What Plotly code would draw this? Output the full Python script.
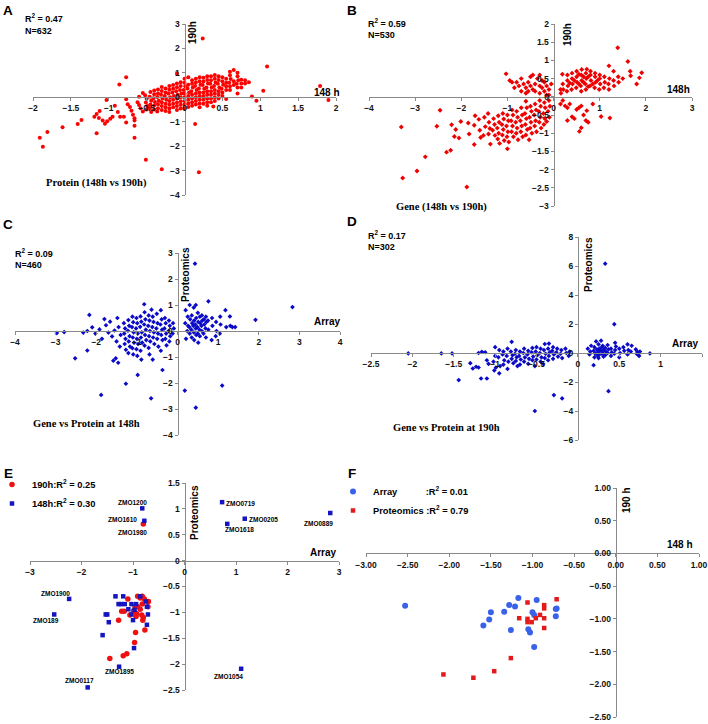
import plotly.graph_objects as go

W, H = 708, 724

# ---------------- Panel A : Protein (148h vs 190h) ----------------
a_pts = [
    (0.24, 2.41), (1.09, 1.26), (1.79, 0.46), (1.90, -0.11), (1.04, 0.27), (0.89, 0.03), (0.95, -0.14), (0.55, -0.07),
    (-0.77, 0.82), (-0.86, 0.52), (-1.91, -1.66), (-1.87, -2.02), (-1.81, -1.42), (-1.61, -1.23), (-1.41, -1.09),
    (-1.36, -0.93), (-1.16, -1.47), (-0.66, -1.66), (-0.51, -2.56), (-0.30, -2.95), (0.19, -3.07), (0.14, -1.09),
    (-0.66, -1.17),
    (-1.12, -0.56), (-1.16, -0.68), (-1.19, -0.80), (-1.13, -0.85), (-1.08, -0.95), (-1.05, -1.08), (-1.02, -0.98),
    (-0.98, -0.88), (-0.95, -0.80), (-0.85, -0.80), (-0.80, -0.80), (-0.92, -0.35), (-1.03, -0.11), (-0.77, -0.08),
    (-0.75, -0.28), (-0.72, -0.40), (-0.70, -0.55), (-0.68, -0.72), (-0.66, -0.86), (-0.66, -0.95), (-0.62, -0.20),
    (-0.60, 0.02), (-0.58, -0.45), (-0.55, -0.58), (-0.77, -1.03), (-0.88, -0.60), (-0.55, 0.18), (-0.60, -0.32),
    (-0.52, 0.08), (-0.50, -0.06), (-0.51, -0.21), (-0.49, -0.36), (-0.50, -0.50),
    (-0.45, 0.22), (-0.46, 0.02), (-0.44, -0.14), (-0.45, -0.30), (-0.46, -0.44), (-0.44, -0.60),
    (-0.40, 0.28), (-0.40, 0.12), (-0.41, -0.04), (-0.39, -0.19), (-0.40, -0.34), (-0.40, -0.50),
    (-0.35, 0.32), (-0.35, 0.16), (-0.36, 0.01), (-0.34, -0.14), (-0.35, -0.29), (-0.35, -0.45), (-0.36, -0.58),
    (-0.30, 0.42), (-0.30, 0.26), (-0.31, 0.10), (-0.29, -0.05), (-0.30, -0.20), (-0.30, -0.36), (-0.30, -0.52),
    (-0.25, 0.36), (-0.25, 0.20), (-0.26, 0.05), (-0.24, -0.10), (-0.25, -0.26), (-0.25, -0.41), (-0.25, -0.56),
    (-0.20, 0.46), (-0.20, 0.31), (-0.21, 0.15), (-0.19, 0.00), (-0.20, -0.15), (-0.20, -0.31), (-0.20, -0.46),
    (-0.20, -0.60),
    (-0.15, 0.50), (-0.15, 0.35), (-0.16, 0.20), (-0.14, 0.05), (-0.15, -0.10), (-0.15, -0.26), (-0.15, -0.41),
    (-0.10, 0.97), (-0.10, 0.56), (-0.10, 0.41), (-0.11, 0.25), (-0.09, 0.10), (-0.10, -0.05), (-0.10, -0.21),
    (-0.10, -0.36), (-0.10, -0.52),
    (-0.05, 0.62), (-0.05, 0.46), (-0.06, 0.30), (-0.04, 0.15), (-0.05, 0.00), (-0.05, -0.16), (-0.05, -0.31),
    (-0.05, -0.46),
    (0.00, 0.76), (0.00, 0.60), (0.01, 0.45), (-0.01, 0.30), (0.00, 0.15), (0.00, 0.00), (0.00, -0.15),
    (0.00, -0.30), (0.00, -0.46),
    (0.05, 0.82), (0.05, 0.51), (0.04, 0.36), (0.06, 0.20), (0.05, 0.05), (0.05, -0.10), (0.05, -0.25), (0.05, -0.40),
    (0.10, 0.70), (0.10, 0.55), (0.11, 0.40), (0.09, 0.25), (0.10, 0.10), (0.10, -0.05), (0.10, -0.20), (0.10, -0.35),
    (0.15, 0.76), (0.15, 0.61), (0.14, 0.46), (0.16, 0.30), (0.15, 0.15), (0.15, 0.00), (0.15, -0.15), (0.15, -0.30),
    (0.20, 0.82), (0.20, 0.66), (0.21, 0.51), (0.19, 0.36), (0.20, 0.20), (0.20, 0.05), (0.20, -0.10), (0.20, -0.25),
    (0.20, -0.41),
    (0.25, 0.80), (0.25, 0.65), (0.24, 0.50), (0.26, 0.35), (0.25, 0.20), (0.25, 0.05), (0.25, -0.10), (0.25, -0.26),
    (0.30, 0.86), (0.30, 0.71), (0.31, 0.56), (0.29, 0.40), (0.30, 0.25), (0.30, 0.10), (0.30, -0.05), (0.30, -0.20),
    (0.30, -0.35),
    (0.35, 0.86), (0.35, 0.70), (0.34, 0.55), (0.36, 0.40), (0.35, 0.25), (0.35, 0.10), (0.35, -0.05), (0.35, -0.20),
    (0.40, 0.91), (0.40, 0.76), (0.41, 0.61), (0.39, 0.46), (0.40, 0.30), (0.40, 0.15), (0.40, 0.00), (0.40, -0.15),
    (0.38, -0.38),
    (0.45, 0.86), (0.45, 0.71), (0.44, 0.55), (0.46, 0.40), (0.45, 0.25), (0.45, 0.10), (0.45, -0.05),
    (0.50, 0.82), (0.50, 0.66), (0.51, 0.51), (0.49, 0.35), (0.50, 0.20), (0.50, 0.05),
    (0.55, 0.76), (0.55, 0.60), (0.55, 0.45), (0.55, 0.30),
    (0.60, 1.05), (0.60, 0.90), (0.61, 0.75), (0.59, 0.60), (0.60, 0.45), (0.60, 0.30),
    (0.65, 1.12), (0.65, 0.66), (0.65, 0.50),
    (0.70, 1.00), (0.70, 0.86), (0.71, 0.70), (0.69, 0.55), (0.70, 0.40), (0.70, 0.16),
    (0.75, 0.72), (0.75, 0.56), (0.75, 0.40), (0.80, 0.70), (0.80, 0.56), (0.85, 0.62),
]

# ---------------- Panel B : Gene (148h vs 190h) ----------------
b_pts = [
    (-3.30, -0.83), (-3.27, -2.23), (-2.96, -2.04), (-2.78, -1.65), (-2.53, -0.81), (-2.46, -0.37), (-2.32, -1.52),
    (-2.23, -1.47), (-2.21, -0.77), (-2.12, -0.90), (-2.15, -1.09), (-2.05, -1.13), (-2.01, -0.68), (-1.88, -2.48),
    (-1.72, -1.31), (-1.00, -1.43), (-0.53, -1.18),
    (1.39, 1.35), (1.61, 0.97), (1.66, 0.70), (1.67, 0.58), (1.86, 0.52), (1.91, 0.66), (1.80, 0.35), (1.22, -0.58),
    (1.03, -0.54),
    (-1.85, -0.72), (-1.83, -1.02), (-1.70, -0.52), (-1.72, -0.78), (-1.62, -0.62), (-1.60, -0.92), (-1.58, -1.12),
    (-1.50, -0.56), (-1.48, -0.82), (-1.52, -1.06), (-1.42, -0.46), (-1.40, -0.70), (-1.38, -0.87), (-1.41, -1.02),
    (-1.37, -1.30), (-1.30, -0.60), (-1.28, -0.76), (-1.32, -0.92), (-1.27, -1.06),
    (-1.20, -0.52), (-1.18, -0.70), (-1.22, -0.86), (-1.19, -1.00), (-1.21, -1.16), (-1.17, -1.28),
    (-1.10, -0.46), (-1.08, -0.61), (-1.12, -0.76), (-1.09, -0.90), (-1.11, -1.05), (-1.07, -1.20),
    (-1.00, -0.50), (-0.98, -0.66), (-1.02, -0.80), (-0.99, -0.96), (-1.01, -1.10), (-0.97, -1.24),
    (-0.90, -0.36), (-0.88, -0.50), (-0.92, -0.66), (-0.89, -0.80), (-0.91, -0.96), (-0.87, -1.10),
    (-0.80, -0.40), (-0.78, -0.56), (-0.82, -0.70), (-0.79, -0.86), (-0.81, -1.00), (-0.77, -1.18),
    (-0.70, -0.30), (-0.68, -0.50), (-0.72, -0.66), (-0.69, -0.80), (-0.71, -0.96), (-0.67, -1.10),
    (-0.60, -0.12), (-0.58, -0.30), (-0.62, -0.46), (-0.59, -0.60), (-0.61, -0.76), (-0.57, -0.90), (-0.60, -1.05),
    (-0.50, -0.26), (-0.48, -0.40), (-0.52, -0.56), (-0.49, -0.70), (-0.51, -0.86), (-0.47, -1.00),
    (-0.40, -0.20), (-0.38, -0.36), (-0.42, -0.50), (-0.39, -0.66), (-0.41, -0.80), (-0.37, -0.96),
    (-0.30, -0.10), (-0.28, -0.26), (-0.32, -0.40), (-0.29, -0.56), (-0.31, -0.70), (-0.27, -0.86),
    (-0.20, -0.16), (-0.18, -0.30), (-0.22, -0.46), (-0.19, -0.60), (-0.21, -0.76),
    (-0.10, -0.10), (-0.08, -0.26), (-0.12, -0.40), (-0.09, -0.56), (-0.15, -0.68),
    (-1.03, 0.63), (-0.95, 0.45), (-0.90, 0.40), (-0.80, 0.40), (-0.75, 0.30), (-0.70, 0.50), (-0.65, 0.35),
    (-0.60, 0.25), (-0.55, 0.40), (-0.50, 0.30), (-0.50, 0.55), (-0.45, 0.20), (-0.40, 0.35), (-0.40, 0.15),
    (-0.35, 0.50), (-0.30, 0.30), (-0.30, 0.10), (-0.25, 0.25), (-0.20, 0.40), (-0.20, 0.15), (-0.15, 0.30),
    (-0.10, 0.20), (-0.10, 0.05), (-0.05, 0.35), (-0.60, 0.10), (-0.70, 0.15), (-0.85, 0.25), (-0.45, 0.60),
    (-0.30, 0.60), (-0.15, 0.05), (-0.25, 0.45), (-0.55, 0.15),
    (0.15, 0.20), (0.16, 0.10), (0.20, 0.35), (0.21, 0.20), (0.19, 0.62),
    (0.30, 0.45), (0.31, 0.30), (0.29, 0.15), (0.30, 0.60), (0.40, 0.50), (0.41, 0.35), (0.39, 0.20), (0.40, 0.65),
    (0.50, 0.55), (0.51, 0.40), (0.49, 0.25), (0.50, 0.70), (0.60, 0.60), (0.61, 0.45), (0.59, 0.30), (0.60, 0.15),
    (0.61, 0.75), (0.70, 0.65), (0.71, 0.50), (0.69, 0.35), (0.70, 0.20), (0.72, 0.76), (0.80, 0.60), (0.81, 0.45),
    (0.79, 0.30), (0.80, 0.70), (0.90, 0.55), (0.91, 0.40), (0.89, 0.25), (0.90, 0.65), (1.00, 0.50), (1.01, 0.35),
    (0.99, 0.20), (1.00, 0.60), (1.10, 0.55), (1.11, 0.40), (1.09, 0.25), (1.20, 0.85), (1.21, 0.50), (1.19, 0.35),
    (1.20, 0.20), (1.30, 0.45), (1.31, 0.30), (1.30, 0.70), (1.40, 0.55), (1.41, 0.40), (1.50, 0.50),
    (0.45, 0.45), (0.55, 0.35), (0.65, 0.40), (0.75, 0.55), (0.85, 0.35), (0.95, 0.45), (0.35, 0.38), (0.65, 0.55),
    (0.55, 0.62), (0.75, 0.28),
    (0.15, -0.20), (0.25, -0.25), (0.30, -0.30), (0.35, -0.20), (0.40, -0.55), (0.45, -0.60), (0.50, -0.35),
    (0.55, -0.30), (0.60, -0.25), (0.65, -0.50), (0.70, -0.65), (0.72, -0.38), (0.56, -0.95), (0.60, -0.85),
    (0.75, -0.70), (0.30, -0.65), (0.85, -0.20), (0.20, -0.10),
]

# ---------------- Panel C : Gene vs Protein at 148h ----------------
c_pts = [
    (0.43, 2.59), (2.83, 0.92), (1.92, 0.43), (-2.97, -0.08), (-2.79, -0.04), (-2.52, -1.05), (-2.22, -0.75),
    (-2.17, 0.62), (-1.88, -2.46), (-1.58, -1.14), (-1.52, -1.05), (-1.46, -1.22), (-1.27, -2.03), (-0.98, -1.69),
    (-0.65, -2.59), (-0.37, -1.50), (0.18, -2.29), (0.45, -2.95), (1.10, -2.10), (-0.82, 1.03), (-0.64, 0.82),
    (0.76, 1.14),
    (-2.32, -0.06), (-2.22, 0.00), (-2.10, 0.14), (-2.02, -0.10), (-1.92, 0.06), (-1.86, -0.30), (-1.80, 0.46),
    (-1.76, 0.22), (-1.70, -0.06), (-1.66, 0.36), (-1.61, -0.21), (-1.55, 0.02), (-1.50, -0.40), (-1.48, 0.50),
    (-1.45, 0.15), (-1.40, -0.15), (-1.42, -0.60),
    (-1.32, 0.30), (-1.29, 0.10), (-1.31, -0.10), (-1.28, -0.30), (-1.30, -0.50), (-1.27, -0.72),
    (-1.21, 0.42), (-1.19, 0.20), (-1.22, 0.01), (-1.18, -0.20), (-1.20, -0.40), (-1.17, -0.60), (-1.21, -0.85),
    (-1.11, 0.55), (-1.09, 0.34), (-1.12, 0.15), (-1.08, -0.05), (-1.10, -0.25), (-1.07, -0.45), (-1.11, -0.66),
    (-1.09, -0.90),
    (-1.01, 0.50), (-0.99, 0.30), (-1.02, 0.10), (-0.98, -0.10), (-1.00, -0.30), (-0.97, -0.50), (-1.01, -0.70),
    (-0.99, -0.96),
    (-0.91, 0.56), (-0.89, 0.36), (-0.92, 0.16), (-0.88, -0.05), (-0.90, -0.25), (-0.87, -0.45), (-0.91, -0.76),
    (-0.89, -1.10),
    (-0.81, 0.72), (-0.79, 0.45), (-0.82, 0.25), (-0.78, 0.05), (-0.80, -0.15), (-0.77, -0.35), (-0.81, -0.56),
    (-0.71, 0.60), (-0.69, 0.40), (-0.72, 0.20), (-0.68, 0.00), (-0.70, -0.20), (-0.67, -0.40), (-0.71, -0.65),
    (-0.69, -0.90),
    (-0.61, 0.55), (-0.59, 0.35), (-0.62, 0.15), (-0.58, -0.05), (-0.60, -0.25), (-0.57, -0.50), (-0.61, -1.10),
    (-0.51, 0.66), (-0.49, 0.30), (-0.52, 0.10), (-0.48, -0.10), (-0.50, -0.30), (-0.47, -0.60),
    (-0.41, 0.80), (-0.39, 0.45), (-0.42, 0.25), (-0.38, 0.05), (-0.40, -0.15), (-0.37, -0.35), (-0.41, -0.76),
    (-0.31, 0.50), (-0.29, 0.30), (-0.32, 0.10), (-0.28, -0.10), (-0.30, -0.30), (-0.27, -0.55),
    (-0.21, 0.40), (-0.19, 0.20), (-0.22, 0.00), (-0.18, -0.20), (-0.20, -0.40),
    (-0.11, 0.30), (-0.09, 0.10), (-0.12, -0.10),
    (0.20, 0.80), (0.19, 0.30), (0.21, -0.30), (0.25, 0.55), (0.26, 0.20), (0.24, 0.00),
    (0.30, 1.00), (0.31, 0.45), (0.29, 0.15), (0.30, -0.10), (0.35, 0.60), (0.36, 0.30), (0.34, 0.05), (0.35, -0.25),
    (0.40, 0.90), (0.41, 0.40), (0.39, 0.20), (0.40, -0.05), (0.41, -0.35),
    (0.45, 1.00), (0.46, 0.50), (0.44, 0.25), (0.45, 0.10), (0.46, -0.15),
    (0.50, 0.70), (0.51, 0.35), (0.49, 0.15), (0.50, -0.10), (0.51, -0.45),
    (0.55, 0.55), (0.56, 0.30), (0.54, 0.05), (0.55, -0.20), (0.60, 0.60), (0.61, 0.40), (0.59, 0.20), (0.60, 0.00),
    (0.65, 0.45), (0.66, 0.25), (0.64, -0.10), (0.70, 0.55), (0.71, 0.35), (0.69, 0.10), (0.70, -0.25),
    (0.75, 0.40), (0.76, 0.05), (0.85, 0.50), (0.86, 0.20), (0.84, -0.35), (0.95, 0.35), (0.96, 0.00), (0.94, -0.20),
    (1.05, 0.55), (1.06, 0.25), (1.04, -0.10), (1.18, 0.80), (1.20, 0.15), (1.29, 0.56), (1.30, 0.20), (1.35, 0.15),
    (1.42, 0.15),
]

# ---------------- Panel D : Gene vs Protein at 190h ----------------
d_pts = [
    (0.33, 6.16), (0.44, 1.99), (0.37, -2.63), (-0.52, -4.00), (-0.29, -2.90), (-0.19, -3.13), (-2.05, -0.03),
    (-1.65, -0.03), (-1.52, -0.03), (-1.44, -1.87), (-1.27, -1.07), (-1.23, -0.95), (-1.17, -1.76), (-1.10, -1.76),
    (-1.16, 0.08), (0.87, -0.03), (0.72, 0.08), (0.73, -0.12), (0.19, -0.84),
    (-1.30, -0.70), (-1.20, -1.00), (-1.20, 0.00), (-1.10, -0.50), (-1.08, -0.75), (-1.12, 0.05),
    (-1.00, -0.20), (-1.02, -0.60), (-0.99, -1.00), (-1.01, -1.20), (-1.00, 0.40),
    (-0.95, 0.20), (-0.96, -0.30), (-0.94, -0.90), (-0.95, -1.40), (-0.90, 0.10), (-0.91, -0.10), (-0.89, -0.50),
    (-0.90, -0.80), (-0.85, 0.30), (-0.86, -0.20), (-0.84, -0.60), (-0.85, -1.10),
    (-0.80, 0.77), (-0.81, 0.10), (-0.79, -0.15), (-0.80, -0.40), (-0.78, -0.70),
    (-0.75, 0.20), (-0.76, -0.05), (-0.74, -0.30), (-0.75, -0.55), (-0.73, -0.90),
    (-0.70, 0.10), (-0.71, -0.20), (-0.69, -0.45), (-0.70, -0.80), (-0.65, 0.30), (-0.66, 0.00), (-0.64, -0.30),
    (-0.65, -0.60), (-0.60, 0.15), (-0.61, -0.10), (-0.59, -0.40), (-0.60, -0.75),
    (-0.55, 0.35), (-0.56, 0.05), (-0.54, -0.25), (-0.55, -0.50),
    (-0.50, 0.40), (-0.51, 0.10), (-0.49, -0.15), (-0.50, -0.45), (-0.52, -0.90),
    (-0.45, 0.30), (-0.46, 0.00), (-0.44, -0.30), (-0.45, -0.60),
    (-0.40, 0.62), (-0.41, 0.20), (-0.39, -0.05), (-0.40, -0.35), (-0.42, -0.75),
    (-0.35, 0.65), (-0.36, 0.30), (-0.34, 0.05), (-0.35, -0.20), (-0.36, -0.50),
    (-0.30, 0.40), (-0.31, 0.15), (-0.29, -0.10), (-0.30, -0.40), (-0.25, 0.30), (-0.26, 0.05), (-0.24, -0.25),
    (-0.20, 0.20), (-0.21, -0.05), (-0.19, -0.35), (-0.15, 0.30), (-0.14, 0.00), (-0.10, 0.10), (-0.11, -0.20),
    (0.12, 0.30), (0.15, 0.10), (0.14, -0.10), (0.16, 0.50), (0.20, 0.40), (0.19, 0.15), (0.21, -0.05),
    (0.20, -0.30), (0.22, 0.80), (0.23, 0.25), (0.22, 0.00), (0.24, -0.20),
    (0.25, 0.60), (0.26, 0.30), (0.25, 0.10), (0.26, -0.10), (0.25, -0.35),
    (0.28, 0.85), (0.29, 0.40), (0.28, 0.15), (0.29, -0.05), (0.30, 0.50), (0.31, 0.20), (0.30, 0.00), (0.31, -0.25),
    (0.33, 0.35), (0.34, 0.10), (0.33, -0.15), (0.36, 0.55), (0.37, 0.25), (0.36, 0.00),
    (0.40, 0.30), (0.41, 0.05), (0.40, -0.20), (0.45, 0.70), (0.46, 0.45), (0.45, 0.20), (0.44, -0.05),
    (0.50, 0.30), (0.51, 0.00), (0.50, -0.30), (0.55, 0.40), (0.56, 0.15), (0.60, 0.60), (0.61, 0.20),
    (0.60, -0.10), (0.65, 0.50), (0.64, 0.10), (0.70, 0.25), (0.71, -0.05), (0.75, 0.10), (0.74, -0.20),
]

# ---------------- Panel E : selected genes ----------------
e148_x = [-0.82, -0.78, 0.73, 0.83, 1.17, 2.83, -2.24, -2.53, -1.27, -1.88, 1.10,
          -1.34, -1.19, -1.28, -1.23, -1.16, -1.03, -0.94, -0.86, -0.75, -0.73, -0.71, -0.73, -1.09,
          -1.03, -1.00, -0.97, -1.53, -1.50, -1.47, -1.59, -0.98]
e148_y = [1.01, 0.77, 1.13, 0.71, 0.81, 0.92, -0.74, -1.04, -2.05, -2.45, -2.09,
          -0.69, -0.69, -0.84, -0.84, -0.84, -0.84, -0.84, -0.69, -0.79, -0.89, -1.04, -1.24, -0.94,
          -1.04, -1.15, -0.95, -1.04, -1.04, -1.19, -1.44, -1.69]
e190_x = [-0.80, -1.10, -1.22, -1.17, -1.28, -0.91, -0.86, -0.82, -0.78, -0.70, -0.71, -0.82, -0.91, -0.86,
          -0.93, -0.94, -0.83, -0.80, -0.81, -0.99, -1.06, -0.96, -0.77, -0.95, -0.97, -1.12, -1.19, -1.45]
e190_y = [0.71, -0.74, -0.98, -0.98, -1.15, -0.69, -0.72, -0.69, -0.74, -0.79, -0.89, -0.84, -0.89, -0.94,
          -1.02, -1.08, -1.05, -1.10, -1.15, -0.97, -1.05, -0.89, -1.34, -1.39, -1.58, -1.80, -1.84, -1.89]
e_labels = ["ZMO1200", "ZMO1610", "ZMO1980", "ZMO0719", "ZMO0205", "ZMO1618", "ZMO0889",
            "ZMO1900", "ZMO189", "ZMO1895", "ZMO0117", "ZMO1054"]
e_label_x = [-1.01, -1.20, -1.01, 1.09, 1.53, 1.06, 2.60, -2.51, -2.68, -1.27, -2.03, 0.85]
e_label_y = [1.13, 0.79, 0.55, 1.11, 0.79, 0.60, 0.71, -0.63, -1.16, -2.15, -2.31, -2.24]

# ---------------- Panel F : 148 h vs 190 h ----------------
f_arr_x = [-2.53, -1.59, -1.52, -1.50, -1.34, -1.28, -1.26, -1.21, -1.17, -1.00, -0.98, -0.95, -1.05, -1.03,
           -0.98, -0.72, -0.72, -0.71]
f_arr_y = [-0.80, -1.10, -1.01, -0.90, -0.89, -0.79, -1.17, -0.81, -0.68, -0.90, -0.94, -0.71, -1.16, -1.21,
           -1.43, -0.96, -0.85, -0.84]
f_pro_x = [-2.07, -1.71, -1.46, -1.26, -1.16, -1.06, -1.06, -1.06, -1.01, -0.96, -0.91, -0.86, -0.86, -0.86,
           -0.86, -0.71]
f_pro_y = [-1.85, -1.90, -1.80, -1.60, -0.99, -0.75, -1.00, -1.05, -1.05, -0.99, -0.94, -0.79, -0.84, -0.99,
           -1.14, -0.70]

FONT = "Liberation Sans, Arial, sans-serif"
SERIF = "Liberation Serif, Times New Roman, serif"
AXC = "#8a8a8a"

fig = go.Figure()


def add(pts, n, color, symbol, size):
    fig.add_trace(go.Scatter(
        x=[p[0] for p in pts], y=[p[1] for p in pts], mode="markers",
        xaxis="x" + ("" if n == 1 else str(n)), yaxis="y" + ("" if n == 1 else str(n)),
        marker=dict(color=color, symbol=symbol, size=size, line=dict(width=0)),
        showlegend=False, hoverinfo="skip"))


add(a_pts, 1, "#ff0000", "circle", 4)
add(b_pts, 2, "#ee0000", "diamond", 3.8)
add(c_pts, 3, "#0a0ac8", "diamond", 3.6)
add(d_pts, 4, "#0a0ac8", "diamond", 3.6)

fig.add_trace(go.Scatter(x=e190_x, y=e190_y, mode="markers", xaxis="x5", yaxis="y5",
                         marker=dict(color="#ee1111", symbol="circle", size=5.5),
                         name="190h:R<sup>2</sup> = 0.25", legend="legend", hoverinfo="skip"))
fig.add_trace(go.Scatter(x=e148_x, y=e148_y, mode="markers", xaxis="x5", yaxis="y5",
                         marker=dict(color="#1414c0", symbol="square", size=4.5),
                         name="148h:R<sup>2</sup> = 0.30", legend="legend", hoverinfo="skip"))
fig.add_trace(go.Scatter(x=f_arr_x, y=f_arr_y, mode="markers", xaxis="x6", yaxis="y6",
                         marker=dict(color="#3a62e8", symbol="circle", size=6),
                         name="Array" + "\u00a0" * 11 + ":R<sup>2</sup> = 0.01", legend="legend2",
                         hoverinfo="skip"))
fig.add_trace(go.Scatter(x=f_pro_x, y=f_pro_y, mode="markers", xaxis="x6", yaxis="y6",
                         marker=dict(color="#e31a1c", symbol="square", size=4.5),
                         name="Proteomics :R<sup>2</sup> = 0.79", legend="legend2", hoverinfo="skip"))

layout = {}


def axes(n, xr, yr, box, xd, yd, fmt=""):
    x0, y0, x1, y1 = box
    xdom = [x0 / W, x1 / W]
    ydom = [1 - y1 / H, 1 - y0 / H]
    xpos = ydom[0] + (0 - yr[0]) / (yr[1] - yr[0]) * (ydom[1] - ydom[0])
    ypos = xdom[0] + (0 - xr[0]) / (xr[1] - xr[0]) * (xdom[1] - xdom[0])
    common = dict(showline=True, linecolor=AXC, linewidth=1, ticks="outside", ticklen=3, tickcolor=AXC,
                  tickwidth=1, showgrid=False, zeroline=False, tick0=0, tickformat=fmt, automargin=False,
                  tickfont=dict(family=FONT, size=8.5, color="#111", weight="bold"), fixedrange=True)
    sfx = "" if n == 1 else str(n)
    layout["xaxis" + sfx] = dict(domain=xdom, range=xr, anchor="free", position=xpos, dtick=xd, **common)
    layout["yaxis" + sfx] = dict(domain=ydom, range=yr, anchor="free", position=ypos, dtick=yd, **common)


axes(1, [-2, 2], [-4, 3], (33, 24, 336, 195), 0.5, 1)
axes(2, [-4, 3], [-3, 2], (369, 24, 692, 206), 1, 0.5)
axes(3, [-4, 4], [-4, 3], (15, 253, 340, 435), 1, 1)
axes(4, [-2.5, 1.5], [-6, 8], (371, 237, 702, 440), 0.5, 2)
axes(5, [-3, 3], [-2.5, 1.5], (30, 483, 339, 690), 1, 0.5)
axes(6, [-3, 1], [-2.5, 1], (366, 488, 699, 717), 0.5, 0.5, ".2f")

ann = []


def txt(x, y, s, size=10, angle=0, xanchor="center", family=FONT):
    ann.append(dict(x=x / W, y=1 - y / H, xref="paper", yref="paper", text=s, showarrow=False,
                    xanchor=xanchor, yanchor="middle", textangle=angle,
                    font=dict(family=family, size=size, color="#000", weight="bold")))


for L, (lx, ly) in zip("ABCDEF", [(8, 10), (352, 10), (8, 224), (352, 222), (8, 473), (352, 473)]):
    txt(lx, ly, L, size=13.5)

txt(23, 18, "R<sup>2</sup> = 0.47", 9, xanchor="left")
txt(23, 31, "N=632", 9, xanchor="left")
txt(366, 23, "R<sup>2</sup> = 0.59", 9, xanchor="left")
txt(366, 35, "N=530", 9, xanchor="left")
txt(13, 253, "R<sup>2</sup> = 0.09", 9, xanchor="left")
txt(13, 265, "N=460", 9, xanchor="left")
txt(366, 235, "R<sup>2</sup> = 0.17", 9, xanchor="left")
txt(366, 247, "N=302", 9, xanchor="left")

txt(193, 33, "190h", 10, angle=-90)
txt(327, 92, "148 h", 10)
txt(567, 35, "190h", 10, angle=-90)
txt(678, 89, "148h", 10)
txt(186, 275, "Proteomics", 10, angle=-90)
txt(327, 322, "Array", 10)
txt(588, 265, "Proteomics", 10, angle=-90)
txt(685, 343, "Array", 10)
txt(194, 512, "Proteomics", 10, angle=-90)
txt(323, 552, "Array", 10)
txt(626, 500, "190 h", 10, angle=-90)
txt(680, 544, "148 h", 10)

txt(96, 183, "Protein (148h vs 190h)", 10.5, family=SERIF)
txt(441, 207, "Gene (148h vs 190h)", 10.5, family=SERIF)
txt(86, 424, "Gene vs Protein at 148h", 10.5, family=SERIF)
txt(446, 427, "Gene vs Protein at 190h", 10.5, family=SERIF)

for s, lx, ly in zip(e_labels, e_label_x, e_label_y):
    ann.append(dict(x=lx, y=ly, xref="x5", yref="y5", text=s, showarrow=False,
                    font=dict(family=FONT, size=6.5, color="#000", weight="bold")))

fig.update_layout(
    width=W, height=H, margin=dict(l=0, r=0, t=0, b=0, autoexpand=False),
    paper_bgcolor="white", plot_bgcolor="white",
    annotations=ann,
    legend=dict(x=-8 / W, y=1 - 470 / H, xanchor="left", yanchor="top", bgcolor="rgba(0,0,0,0)",
                font=dict(family=FONT, size=9.3, color="#000", weight="bold"), tracegroupgap=0,
                itemwidth=30),
    legend2=dict(x=333 / W, y=1 - 477 / H, xanchor="left", yanchor="top", bgcolor="rgba(0,0,0,0)",
                 font=dict(family=FONT, size=9.3, color="#000", weight="bold"), tracegroupgap=0,
                 itemwidth=30),
    **layout,
)

fig.write_html("out.html", config={"displayModeBar": False},
               post_script="document.body.style.margin='0px';")
